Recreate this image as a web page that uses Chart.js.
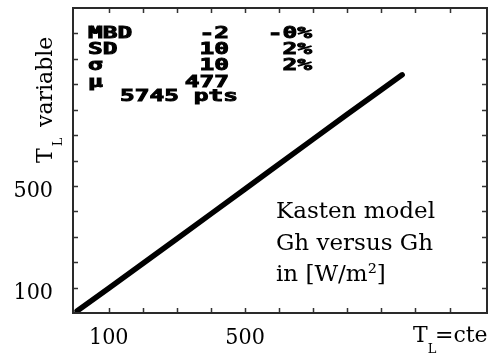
<!DOCTYPE html>
<html>
<head>
<meta charset="utf-8">
<script src="https://cdn.jsdelivr.net/npm/chart.js@4.4.1/dist/chart.umd.min.js"></script>
<style>
  html, body { margin: 0; padding: 0; background: #fff; }
  #tlChart { display: block; }
</style>
</head>
<body>
<canvas id="tlChart" width="490" height="353"></canvas>
<script>
// T_L = cte versus T_L variable (Kasten model, Gh in W/m2)
var xVals = [7, 100, 200, 300, 400, 500, 573, 700, 800, 900, 961];
var yVals = [8, 97, 195, 292, 390, 488, 560, 684, 782, 878, 937];

// tick marks every 100, only some of them carry a label
var tickLabels = [100, 500];

// statistics box
var statNames = ['MBD', 'SD', 'σ', 'μ'];
var statAbs = ['-2', '10', '10', '477'];
var statRel = ['-0%', '2%', '2%', ''];
var nPoints = 5745;

var noteLines = ['Kasten model', 'Gh versus Gh', 'in [W/m²]'];

var SERIF_C = "'DejaVu Serif Condensed', 'DejaVu Serif', serif";
var SERIF = "'DejaVu Serif', serif";
var MONO = "'DejaVu Sans Mono', monospace";

var points = xVals.map(function (x, i) {
    return { x: x, y: yVals[i] };
});

// frame, inward ticks on all four sides, titles and text boxes
var framePlugin = {
    id: 'framePlugin',
    afterDraw: function (chart) {
        var ctx = chart.ctx;
        var a = chart.chartArea;
        var xs = chart.scales.x;
        var ys = chart.scales.y;
        var tl = 5;

        ctx.save();
        ctx.strokeStyle = '#333';
        ctx.lineWidth = 1.5;
        ctx.beginPath();
        xs.ticks.forEach(function (t) {
            if (t.value <= 0 || t.value >= 1200) return;
            var px = Math.round(xs.getPixelForValue(t.value)) + 0.5;
            ctx.moveTo(px, a.bottom); ctx.lineTo(px, a.bottom - tl);
            ctx.moveTo(px, a.top); ctx.lineTo(px, a.top + tl);
        });
        ys.ticks.forEach(function (t) {
            if (t.value <= 0 || t.value >= 1200) return;
            var py = Math.round(ys.getPixelForValue(t.value)) + 0.5;
            ctx.moveTo(a.left, py); ctx.lineTo(a.left + tl, py);
            ctx.moveTo(a.right, py); ctx.lineTo(a.right - tl, py);
        });
        ctx.stroke();

        ctx.lineWidth = 2;
        ctx.strokeStyle = '#2a2a2a';
        ctx.strokeRect(a.left, a.top, a.right - a.left, a.bottom - a.top);

        // axis titles with subscript L
        ctx.fillStyle = '#000';
        ctx.textBaseline = 'alphabetic';
        ctx.textAlign = 'left';

        ctx.save();
        ctx.translate(52, 163);
        ctx.rotate(-Math.PI / 2);
        ctx.font = '22px ' + SERIF;
        ctx.fillText('T', 0, 0);
        var tw = ctx.measureText('T').width;
        ctx.font = '13px ' + SERIF;
        ctx.fillText('L', tw + 2, 10);
        ctx.font = '22px ' + SERIF;
        ctx.fillText('variable', 36, 0);
        ctx.restore();

        ctx.font = '22px ' + SERIF;
        ctx.fillText('T', 413, 342);
        tw = ctx.measureText('T').width;
        ctx.font = '13px ' + SERIF;
        ctx.fillText('L', 413 + tw, 353);
        ctx.font = '22px ' + SERIF;
        ctx.fillText('=cte', 435, 342);

        // model note
        ctx.font = '23px ' + SERIF;
        var noteBase = [218, 250, 281];
        noteLines.forEach(function (s, i) {
            ctx.fillText(s, 276, noteBase[i]);
        });

        // statistics in a wide bold terminal font
        var sx = 1.53;
        var rowBase = [38, 54, 70, 87];
        ctx.font = 'bold 16px ' + MONO;
        ctx.strokeStyle = '#000';
        ctx.lineWidth = 0.9;
        function wide(text, x, y, align) {
            ctx.save();
            ctx.translate(x, y);
            ctx.scale(sx, 1);
            ctx.textAlign = align;
            ctx.fillText(text, 0, 0);
            ctx.strokeText(text, 0, 0);
            ctx.restore();
        }
        statNames.forEach(function (s, i) {
            wide(s, 88, rowBase[i], 'left');
            wide(statAbs[i], 229, rowBase[i], 'right');
            if (statRel[i]) wide(statRel[i], 312, rowBase[i], 'right');
        });
        wide(nPoints + ' pts', 120, 101, 'left');

        ctx.restore();
    }
};

function tickText(v) {
    return tickLabels.indexOf(v) >= 0 ? String(v) : '';
}

var ctx = document.getElementById('tlChart').getContext('2d');
var myChart = new Chart(ctx, {
    type: 'scatter',
    plugins: [framePlugin],
    data: {
        datasets: [{
            data: points,
            showLine: true,
            borderColor: '#000',
            borderWidth: 5.5,
            pointRadius: 0,
            borderCapStyle: 'round',
            tension: 0
        }]
    },
    options: {
        responsive: false,
        animation: false,
        layout: {
            padding: { top: 8, right: 3, left: 0, bottom: 0 }
        },
        plugins: {
            legend: { display: false },
            tooltip: { enabled: false }
        },
        scales: {
            x: {
                type: 'linear',
                min: -5,
                max: 1210,
                afterFit: function (scale) {
                    scale.height = 40;
                    scale.paddingLeft = 0;
                    scale.paddingRight = 0;
                },
                grid: { display: false, drawTicks: false },
                border: { display: false },
                ticks: {
                    stepSize: 100,
                    autoSkip: false,
                    maxRotation: 0,
                    padding: 11,
                    color: '#000',
                    font: { family: SERIF_C, size: 23 },
                    callback: tickText
                }
            },
            y: {
                type: 'linear',
                min: 0,
                max: 1200,
                afterFit: function (scale) {
                    scale.width = 73;
                    scale.paddingTop = 0;
                    scale.paddingBottom = 0;
                },
                grid: { display: false, drawTicks: false },
                border: { display: false },
                ticks: {
                    stepSize: 100,
                    autoSkip: false,
                    padding: 20,
                    labelOffset: 5,
                    color: '#000',
                    font: { family: SERIF_C, size: 23 },
                    callback: tickText
                }
            }
        }
    }
});
</script>
</body>
</html>
